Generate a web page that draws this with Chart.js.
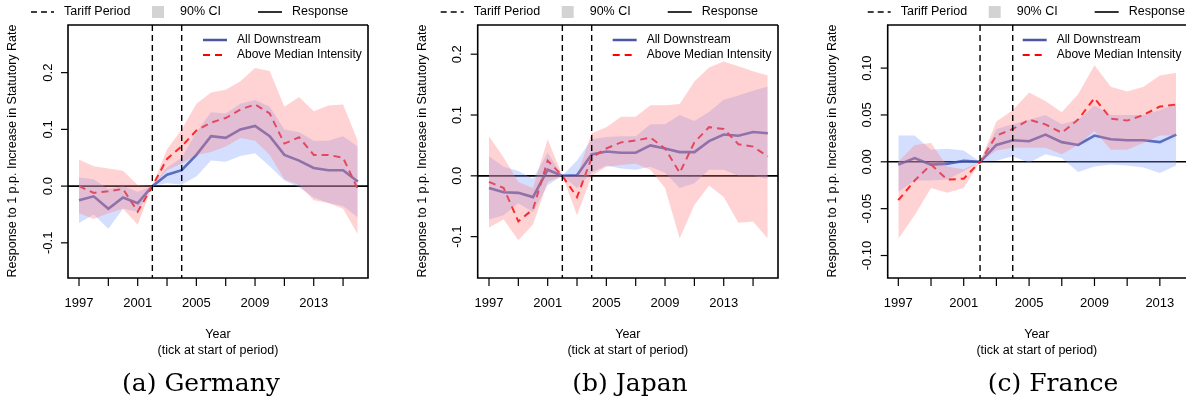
<!DOCTYPE html>
<html>
<head>
<meta charset="utf-8">
<script src="https://cdn.jsdelivr.net/npm/chart.js@4.4.1/dist/chart.umd.min.js"></script>
<style>
  body { margin: 0; background: #fff; width: 1186px; height: 406px; overflow: hidden; position: relative; }
  canvas { position: absolute; top: 0; }
  .cap { position: absolute; top: 368px; font-family: 'DejaVu Serif', 'Liberation Serif', serif; font-size: 25px; transform: translateX(-50%); white-space: nowrap; }
</style>
</head>
<body>
<canvas id="de" width="395" height="406" style="left:0"></canvas>
<canvas id="jp" width="395" height="406" style="left:395px"></canvas>
<canvas id="fr" width="396" height="406" style="left:790px"></canvas>
<div class="cap" style="left:201px">(a) Germany</div>
<div class="cap" style="left:630px">(b) Japan</div>
<div class="cap" style="left:1053px">(c) France</div>
<script>
// ── Data ────────────────────────────────────────────
const yearsLong = [1997,1998,1999,2000,2001,2002,2003,2004,2005,2006,2007,2008,2009,2010,2011,2012,2013,2014,2015,2016];
const yearsFr = yearsLong.slice(0, 18);
const xTickYears = [1997, 2001, 2005, 2009, 2013];
const tariffYears = [2002, 2004];

const deAll   = [-0.025,-0.018,-0.04,-0.02,-0.03,0,0.02,0.028,0.055,0.088,0.085,0.1,0.106,0.088,0.055,0.045,0.032,0.028,0.028,0.008];
const deAllHi = [0.015,0.012,-0.005,0,-0.01,0,0.033,0.05,0.095,0.13,0.128,0.145,0.152,0.14,0.1,0.095,0.08,0.08,0.088,0.07];
const deAllLo = [-0.065,-0.05,-0.075,-0.04,-0.045,0,0.005,0.003,0.017,0.045,0.043,0.053,0.058,0.035,0.01,-0.002,-0.02,-0.03,-0.035,-0.055];
const deAbv   = [0,-0.012,-0.009,-0.005,-0.045,0,0.048,0.07,0.098,0.112,0.12,0.135,0.144,0.128,0.075,0.086,0.055,0.055,0.05,-0.005];
const deAbvHi = [0.047,0.035,0.031,0.027,0.002,0,0.065,0.1,0.145,0.165,0.17,0.185,0.208,0.203,0.14,0.157,0.132,0.142,0.144,0.08];
const deAbvLo = [-0.048,-0.058,-0.048,-0.04,-0.068,0,0.028,0.04,0.055,0.06,0.07,0.085,0.08,0.055,0.012,0.002,-0.025,-0.03,-0.04,-0.085];

const jpAll   = [-0.02,-0.027,-0.028,-0.035,0.01,0,0.001,0.035,0.04,0.038,0.038,0.05,0.045,0.039,0.039,0.057,0.068,0.066,0.072,0.07];
const jpAllHi = [0.032,0.015,0.008,-0.005,0.038,0,0.025,0.06,0.064,0.065,0.065,0.085,0.085,0.1,0.09,0.105,0.125,0.132,0.14,0.147];
const jpAllLo = [-0.072,-0.065,-0.045,-0.06,-0.015,0,-0.02,0.005,0.017,0.012,0.01,0.015,0.005,-0.02,-0.012,0.01,0.01,0,0,-0.005];
const jpAbv   = [-0.01,-0.02,-0.075,-0.055,0.025,0,-0.035,0.03,0.045,0.055,0.058,0.063,0.045,0.005,0.055,0.08,0.077,0.052,0.048,0.032];
const jpAbvHi = [0.065,0.03,-0.01,-0.02,0.06,0,0,0.07,0.08,0.097,0.097,0.116,0.116,0.118,0.155,0.178,0.188,0.18,0.172,0.165];
const jpAbvLo = [-0.085,-0.072,-0.106,-0.08,-0.01,0,-0.065,0,0.015,0.018,0.02,0.01,-0.02,-0.103,-0.048,-0.016,-0.035,-0.077,-0.075,-0.103];

const frAll   = [-0.003,0.004,-0.003,-0.002,0.001,0,0.018,0.023,0.022,0.029,0.021,0.018,0.028,0.024,0.023,0.023,0.021,0.029];
const frAllHi = [0.028,0.028,0.013,0.014,0.012,0,0.035,0.04,0.045,0.05,0.04,0.045,0.06,0.05,0.05,0.05,0.055,0.062];
const frAllLo = [-0.032,-0.02,-0.02,-0.019,-0.01,0,0.001,0.006,-0.001,0.008,0.004,-0.011,-0.005,-0.003,-0.004,-0.006,-0.012,-0.004];
const frAbv   = [-0.041,-0.02,-0.003,-0.019,-0.018,0,0.028,0.035,0.045,0.04,0.031,0.045,0.068,0.046,0.044,0.05,0.059,0.061];
const frAbvHi = [0,0.018,0.02,-0.005,-0.008,0,0.043,0.055,0.074,0.065,0.053,0.072,0.103,0.08,0.075,0.08,0.092,0.095];
const frAbvLo = [-0.082,-0.057,-0.028,-0.033,-0.028,0,0.012,0.015,0.015,0.015,0.008,0.018,0.033,0.013,0.013,0.02,0.028,0.028];

const deYTicks = [-0.1, 0, 0.1, 0.2];
const frYTicks = [-0.1, -0.05, 0, 0.05, 0.1];

// ── Styles ──────────────────────────────────────────
const FONT = "'Liberation Sans', Arial, sans-serif";
const BLUE = 'rgba(30,45,140,0.8)';
const RED = '#ff0000';
const BLUE_BAND = 'rgba(120,155,255,0.32)';
const RED_BAND = 'rgba(255,120,120,0.33)';

const pts = (xs, ys) => xs.map((x, i) => ({ x, y: ys[i] }));

const decor = {
  id: 'decor',
  beforeDatasetsDraw(chart, args, o) {
    const { ctx, chartArea: a, scales: { y } } = chart;
    ctx.save();
    ctx.strokeStyle = '#000'; ctx.lineWidth = 1.6;
    const py = y.getPixelForValue(0);
    ctx.beginPath(); ctx.moveTo(a.left, py); ctx.lineTo(o.openRight ? chart.width : a.right, py); ctx.stroke();
    ctx.restore();
  },
  afterDatasetsDraw(chart, args, o) {
    const { ctx, chartArea: a, scales: { x, y } } = chart;
    ctx.save();
    ctx.strokeStyle = '#000'; ctx.fillStyle = '#000';
    // tariff period
    ctx.lineWidth = 1.4; ctx.setLineDash([6, 4]);
    tariffYears.forEach(t => {
      const px = x.getPixelForValue(t);
      ctx.beginPath(); ctx.moveTo(px, a.top); ctx.lineTo(px, a.bottom); ctx.stroke();
    });
    ctx.setLineDash([]);
    // box
    ctx.lineWidth = 1.6;
    const r = o.openRight ? chart.width : a.right;
    ctx.beginPath();
    ctx.moveTo(r, a.top); ctx.lineTo(a.left, a.top); ctx.lineTo(a.left, a.bottom); ctx.lineTo(r, a.bottom);
    if (!o.openRight) ctx.lineTo(a.right, a.top);
    ctx.stroke();
    // x ticks
    ctx.lineWidth = 1.2;
    ctx.font = '13px ' + FONT; ctx.textAlign = 'center'; ctx.textBaseline = 'middle';
    for (let t = 1997; t <= x.max; t += 2) {
      const px = x.getPixelForValue(t);
      ctx.beginPath(); ctx.moveTo(px, a.bottom); ctx.lineTo(px, a.bottom + 8); ctx.stroke();
    }
    xTickYears.forEach(t => ctx.fillText(String(t), x.getPixelForValue(t), a.bottom + 25));
    ctx.font = '12.5px ' + FONT;
    ctx.fillText('Year', (a.left + a.right) / 2, 335);
    ctx.fillText('(tick at start of period)', (a.left + a.right) / 2, 351);
    // y ticks
    ctx.font = '13px ' + FONT;
    o.yTicks.forEach(v => {
      const py = y.getPixelForValue(v);
      ctx.beginPath(); ctx.moveTo(a.left, py); ctx.lineTo(a.left - 7, py); ctx.stroke();
      ctx.save(); ctx.translate(a.left - 20, py); ctx.rotate(-Math.PI / 2);
      ctx.fillText(v.toFixed(o.dec), 0, 0); ctx.restore();
    });
    ctx.font = '12.5px ' + FONT;
    ctx.save(); ctx.translate(a.left - 55, 151); ctx.rotate(-Math.PI / 2);
    ctx.fillText('Response to 1 p.p. Increase in Statutory Rate', 0, 0); ctx.restore();
    // top legend
    const l = a.left + o.legShift;
    ctx.textAlign = 'left';
    ctx.lineWidth = 1.4; ctx.setLineDash([6, 4]);
    ctx.beginPath(); ctx.moveTo(l - 37, 12); ctx.lineTo(l - 14, 12); ctx.stroke();
    ctx.setLineDash([]);
    ctx.fillText('Tariff Period', l - 4, 12);
    ctx.fillStyle = '#d3d3d3'; ctx.fillRect(l + 84, 6, 12, 12);
    ctx.fillStyle = '#000'; ctx.fillText('90% CI', l + 112, 12);
    ctx.lineWidth = 1.6;
    ctx.beginPath(); ctx.moveTo(l + 190, 12); ctx.lineTo(l + 214, 12); ctx.stroke();
    ctx.fillText('Response', l + 224, 12);
    // inner legend
    ctx.font = '12px ' + FONT;
    ctx.lineWidth = 2.5; ctx.strokeStyle = BLUE;
    ctx.beginPath(); ctx.moveTo(a.left + 135, 40); ctx.lineTo(a.left + 159, 40); ctx.stroke();
    ctx.strokeStyle = RED; ctx.lineWidth = 2; ctx.setLineDash([7, 5]);
    ctx.beginPath(); ctx.moveTo(a.left + 135, 55); ctx.lineTo(a.left + 159, 55); ctx.stroke();
    ctx.setLineDash([]);
    ctx.fillText('All Downstream', a.left + 169, 40);
    ctx.fillText('Above Median Intensity', a.left + 169, 55);
    ctx.restore();
  }
};

function makePanel(id, years, all, allHi, allLo, abv, abvHi, abvLo, opts) {
  const band = (d, c, fill) => ({ data: pts(years, d), borderWidth: 0, pointRadius: 0, backgroundColor: c, fill, tension: 0 });
  new Chart(document.getElementById(id), {
    type: 'line',
    data: {
      datasets: [
        band(abvHi, RED_BAND, '+1'),
        band(abvLo, RED_BAND, false),
        band(allHi, BLUE_BAND, '+1'),
        band(allLo, BLUE_BAND, false),
        { data: pts(years, abv), borderColor: RED, borderWidth: 2, borderDash: [7, 5], pointRadius: 0, fill: false },
        { data: pts(years, all), borderColor: BLUE, borderWidth: 2.6, pointRadius: 0, fill: false },
      ],
    },
    options: {
      responsive: false,
      animation: false,
      layout: { padding: opts.pad },
      plugins: { legend: { display: false }, tooltip: { enabled: false }, decor: opts },
      scales: {
        x: { type: 'linear', display: false, min: opts.xmin, max: opts.xmax },
        y: { display: false, min: opts.ymin, max: opts.ymax },
      },
    },
    plugins: [decor],
  });
}

makePanel('de', yearsLong, deAll, deAllHi, deAllLo, deAbv, deAbvHi, deAbvLo, {
  pad: { left: 68, right: 27, top: 25, bottom: 128 }, xmin: 1996.25, xmax: 2016.7,
  ymin: -0.162, ymax: 0.284, yTicks: deYTicks, dec: 1, legShift: 0,
});
makePanel('jp', yearsLong, jpAll, jpAllHi, jpAllLo, jpAbv, jpAbvHi, jpAbvLo, {
  pad: { left: 82.7, right: 12, top: 25, bottom: 128 }, xmin: 1996.23, xmax: 2016.7,
  ymin: -0.168, ymax: 0.248, yTicks: deYTicks, dec: 1, legShift: 0,
});
makePanel('fr', yearsFr, frAll, frAllHi, frAllLo, frAbv, frAbvHi, frAbvLo, {
  pad: { left: 97.7, right: 0, top: 25, bottom: 128 }, xmin: 1996.35, xmax: 2014.6,
  ymin: -0.124, ymax: 0.146, yTicks: frYTicks, dec: 2, legShift: 17, openRight: true,
});
</script>
</body>
</html>
